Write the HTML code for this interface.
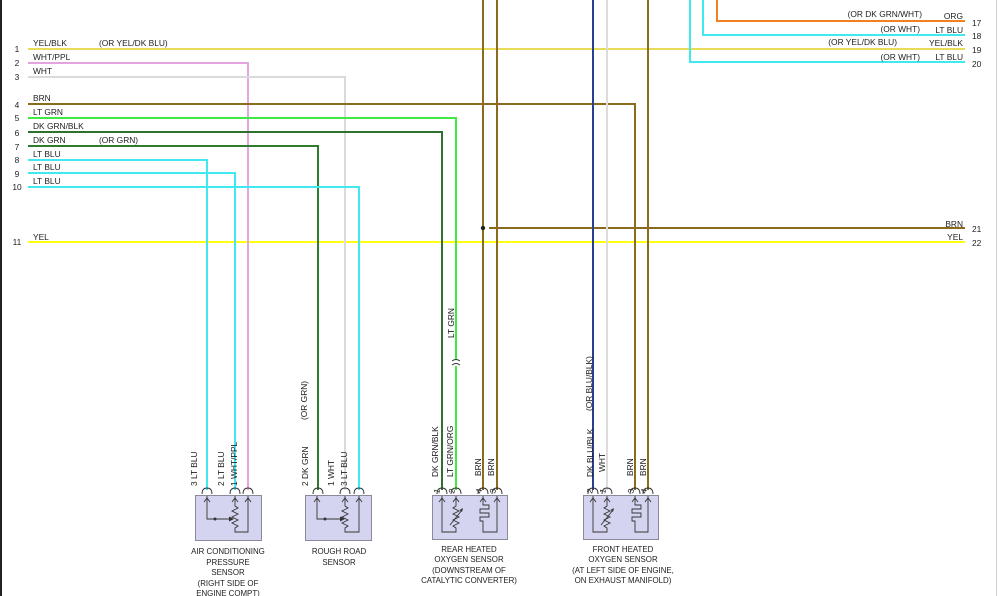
<!DOCTYPE html>
<html><head><meta charset="utf-8"><style>
html,body{margin:0;padding:0;background:#fff;}
svg{display:block;}
text{font-family:"Liberation Sans",Arial,sans-serif;fill:#222;}
.l{font-size:8.4px;}
.s{font-size:7.9px;}
.w{fill:none;stroke-width:2;}
.k{fill:none;stroke:#333;stroke-width:0.9;}
.bx{fill:#d4d4f0;stroke:#8a8a9a;stroke-width:1;}
</style></head><body>
<svg width="1000" height="596" viewBox="0 0 1000 596" xmlns="http://www.w3.org/2000/svg">
<rect x="0" y="0" width="1000" height="596" fill="#fff"/>
<line x1="1" y1="0" x2="1" y2="596" stroke="#222" stroke-width="2"/>
<line x1="996.5" y1="0" x2="996.5" y2="596" stroke="#d0d0d0" stroke-width="1"/>

<!-- wires -->
<path class="w" stroke="#e6dc58" d="M28,49 H965"/>
<path class="w" stroke="#ffff10" d="M28,242 H965"/>
<path class="w" stroke="#e4a4e0" d="M28,63 H248 V490"/>
<path class="w" stroke="#dadada" d="M28,77 H345 V490"/>
<path class="w" stroke="#8b6b1e" d="M28,104 H635 V490"/>
<path class="w" stroke="#44e844" d="M28,118 H456 V360 M456,366 V490"/>
<path class="w" stroke="#2f6f30" d="M28,132 H442 V490"/>
<path class="w" stroke="#2e7d2e" d="M28,146 H318 V490"/>
<path class="w" stroke="#40e8f0" d="M28,160 H207 V490"/>
<path class="w" stroke="#40e8f0" d="M28,173 H235 V490"/>
<path class="w" stroke="#40e8f0" d="M28,187 H359 V490"/>
<path class="w" stroke="#8b6b1e" d="M483,0 V490 M497,0 V490 M648,0 V490 M489,228 H965"/>
<path class="w" stroke="#2b3f8f" d="M593,0 V490"/>
<path class="w" stroke="#dcdcdc" d="M607,0 V490"/>
<path class="w" stroke="#f08020" d="M717,0 V21 H965"/>
<path class="w" stroke="#40e8f0" d="M703,0 V35 H965"/>
<path class="w" stroke="#40e8f0" d="M690,0 V62 H965"/>
<circle cx="483" cy="228" r="2.2" fill="#222"/>
<!-- break mark -->
<path class="k" d="M452,361 Q456,358 460,361 M452,365 Q456,362 460,365"/>

<!-- left numbers -->
<g class="l" text-anchor="middle">
<text x="17" y="52">1</text><text x="17" y="66">2</text><text x="17" y="80">3</text>
<text x="17" y="108">4</text><text x="17" y="121">5</text><text x="17" y="136">6</text>
<text x="17" y="150">7</text><text x="17" y="163">8</text><text x="17" y="177">9</text>
<text x="17" y="190">10</text><text x="17" y="245">11</text>
</g>
<g class="l">
<text x="33" y="46">YEL/BLK</text><text x="99" y="46">(OR YEL/DK BLU)</text>
<text x="33" y="60">WHT/PPL</text>
<text x="33" y="74">WHT</text>
<text x="33" y="101">BRN</text>
<text x="33" y="115">LT GRN</text>
<text x="33" y="129">DK GRN/BLK</text>
<text x="33" y="143">DK GRN</text><text x="99" y="143">(OR GRN)</text>
<text x="33" y="157">LT BLU</text>
<text x="33" y="170">LT BLU</text>
<text x="33" y="184">LT BLU</text>
<text x="33" y="240">YEL</text>
</g>
<!-- right labels -->
<g class="l" text-anchor="end">
<text x="963" y="19">ORG</text><text x="922" y="17">(OR DK GRN/WHT)</text>
<text x="963" y="33">LT BLU</text><text x="920" y="32">(OR WHT)</text>
<text x="963" y="46">YEL/BLK</text><text x="897" y="45">(OR YEL/DK BLU)</text>
<text x="963" y="60">LT BLU</text><text x="920" y="60">(OR WHT)</text>
<text x="963" y="227">BRN</text>
<text x="963" y="240">YEL</text>
</g>
<g class="l">
<text x="972" y="26">17</text><text x="972" y="39">18</text>
<text x="972" y="53">19</text><text x="972" y="67">20</text>
<text x="972" y="232">21</text><text x="972" y="246">22</text>
</g>

<!-- rotated labels -->
<g class="l">
<text transform="translate(307,420) rotate(-90)">(OR GRN)</text>
<text transform="translate(454,338) rotate(-90)">LT GRN</text>
<text transform="translate(592,411) rotate(-90)">(OR BLU/BLK)</text>
<text transform="translate(197,486) rotate(-90)">3  LT BLU</text>
<text transform="translate(224,486) rotate(-90)">2  LT BLU</text>
<text transform="translate(237,486) rotate(-90)">1  WHT/PPL</text>
<text transform="translate(308,486) rotate(-90)">2  DK GRN</text>
<text transform="translate(334,486) rotate(-90)">1  WHT</text>
<text transform="translate(347,486) rotate(-90)">3  LT BLU</text>
<text transform="translate(438,477) rotate(-90)">DK GRN/BLK</text>
<text transform="translate(453,477) rotate(-90)">LT GRN/ORG</text>
<text transform="translate(481,476) rotate(-90)">BRN</text>
<text transform="translate(494,476) rotate(-90)">BRN</text>
<text transform="translate(593,477) rotate(-90)">DK BLU/BLK</text>
<text transform="translate(605,472) rotate(-90)">WHT</text>
<text transform="translate(633,476) rotate(-90)">BRN</text>
<text transform="translate(646,476) rotate(-90)">BRN</text>
<text transform="translate(439,494) rotate(-75)">1</text>
<text transform="translate(454,494) rotate(-75)">2</text>
<text transform="translate(481,494) rotate(-75)">4</text>
<text transform="translate(495,494) rotate(-75)">3</text>
<text transform="translate(592,494) rotate(-75)">2</text>
<text transform="translate(605,494) rotate(-75)">1</text>
<text transform="translate(633,494) rotate(-75)">3</text>
<text transform="translate(646,494) rotate(-75)">4</text>
</g>

<!-- boxes -->
<rect class="bx" x="195.5" y="495.5" width="66" height="45"/>
<rect class="bx" x="305.5" y="495.5" width="66" height="45"/>
<rect class="bx" x="432.5" y="495.5" width="75" height="44"/>
<rect class="bx" x="583.5" y="495.5" width="75" height="44"/>

<!-- connector arcs -->
<g class="k">
<path d="M202,494 Q202,488 207,488 Q212,488 212,494"/>
<path d="M230,494 Q230,488 235,488 Q240,488 240,494"/>
<path d="M243,494 Q243,488 248,488 Q253,488 253,494"/>
<path d="M313,494 Q313,488 318,488 Q323,488 323,494"/>
<path d="M340,494 Q340,488 345,488 Q350,488 350,494"/>
<path d="M354,494 Q354,488 359,488 Q364,488 364,494"/>
<path d="M437,494 Q437,488 442,488 Q447,488 447,494"/>
<path d="M451,494 Q451,488 456,488 Q461,488 461,494"/>
<path d="M478,494 Q478,488 483,488 Q488,488 488,494"/>
<path d="M492,494 Q492,488 497,488 Q502,488 502,494"/>
<path d="M588,494 Q588,488 593,488 Q598,488 598,494"/>
<path d="M602,494 Q602,488 607,488 Q612,488 612,494"/>
<path d="M630,494 Q630,488 635,488 Q640,488 640,494"/>
<path d="M643,494 Q643,488 648,488 Q653,488 653,494"/>
</g>

<!-- sensor internals -->
<g class="k">
<path d="M204,502 L207,498 L210,502 M232,502 L235,498 L238,502 M245,502 L248,498 L251,502"/>
<path d="M207,496 V519 H230"/>
<path d="M235,496 V506 L238,508 L232,511 L238,514 L232,517 L238,520 L232,523 L238,526 L235,528 V532 H248 V496"/>
<path d="M314,502 L317,498 L320,502 M342,502 L345,498 L348,502 M356,502 L359,498 L362,502"/>
<path d="M317,496 V519 H341"/>
<path d="M345,496 V506 L348,508 L342,511 L348,514 L342,517 L348,520 L342,523 L348,526 L345,528 V532 H359 V496"/>
<!-- rear O2 -->
<path d="M439,502 L442,498 L445,502 M453,502 L456,498 L459,502 M480,502 L483,498 L486,502 M494,502 L497,498 L500,502"/>
<path d="M442,496 V532 H456 V528 L453,526 L459,523 L453,520 L459,517 L453,514 L459,511 L453,508 L456,506 V496"/>
<path d="M450,525 L462,510"/>
<path d="M483,496 V505 H489 V509 H480 V513 H489 V517 H480 V521 H483 V532 H497 V496"/>
<!-- front O2 -->
<path d="M590,502 L593,498 L596,502 M604,502 L607,498 L610,502 M632,502 L635,498 L638,502 M645,502 L648,498 L651,502"/>
<path d="M593,496 V532 H607 V528 L604,526 L610,523 L604,520 L610,517 L604,514 L610,511 L604,508 L607,506 V496"/>
<path d="M601,525 L613,510"/>
<path d="M635,496 V505 H641 V509 H632 V513 H641 V517 H632 V521 H635 V532 H648 V496"/>
</g>
<polygon points="229,516.5 234,519 229,521.5" fill="#333"/>
<polygon points="340,516.5 345,519 340,521.5" fill="#333"/>
<polygon points="459.5,510 463,508 462,512" fill="#333"/>
<polygon points="610.5,510 614,508 613,512" fill="#333"/>
<circle cx="215" cy="519" r="1.5" fill="#333"/>
<circle cx="325" cy="519" r="1.5" fill="#333"/>

<!-- captions -->
<g class="s" text-anchor="middle">
<text x="228" y="554">AIR CONDITIONING</text>
<text x="228" y="565">PRESSURE</text>
<text x="228" y="575">SENSOR</text>
<text x="228" y="586">(RIGHT SIDE OF</text>
<text x="228" y="596">ENGINE COMPT)</text>
<text x="339" y="554">ROUGH ROAD</text>
<text x="339" y="565">SENSOR</text>
<text x="469" y="552">REAR HEATED</text>
<text x="469" y="562">OXYGEN SENSOR</text>
<text x="469" y="573">(DOWNSTREAM OF</text>
<text x="469" y="583">CATALYTIC CONVERTER)</text>
<text x="623" y="552">FRONT HEATED</text>
<text x="623" y="562">OXYGEN SENSOR</text>
<text x="623" y="573">(AT LEFT SIDE OF ENGINE,</text>
<text x="623" y="583">ON EXHAUST MANIFOLD)</text>
</g>
</svg>
</body></html>
